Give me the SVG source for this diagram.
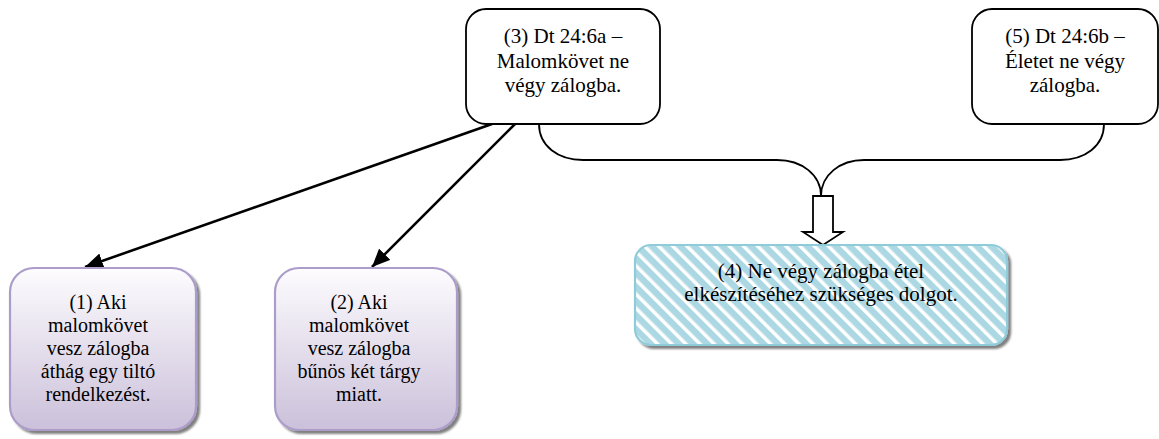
<svg xmlns="http://www.w3.org/2000/svg" width="1159" height="439" viewBox="0 0 1159 439">
  <style>
    .lbl { font-family: "Liberation Serif", "Times New Roman", serif; font-size: 20px; fill: #000; text-anchor: middle; }
    .big { font-size: 21px; }
    .plain { fill: #fff; stroke: #000; stroke-width: 1.8; }
    .purple { fill: url(#lilac); stroke: #ac9cc9; stroke-width: 2.2; filter: url(#shadow); }
    .striped { fill: url(#stripes); stroke: #8fcbd9; stroke-width: 2.2; filter: url(#shadow); }
    .conn { fill: none; stroke: #000; stroke-width: 2.6; }
    .brace { fill: none; stroke: #000; stroke-width: 1.8; }
  </style>
  <defs>
    <linearGradient id="lilac" x1="0" y1="0" x2="0" y2="1">
      <stop offset="0" stop-color="#fdfcfe"/>
      <stop offset="1" stop-color="#cbc0da"/>
    </linearGradient>
    <pattern id="stripes" patternUnits="userSpaceOnUse" width="10" height="10" patternTransform="rotate(-45)">
      <rect width="10" height="10" fill="#acd8e4"/>
      <rect width="3.5" height="10" fill="#ffffff"/>
    </pattern>
    <filter id="shadow" x="-10%" y="-10%" width="130%" height="130%">
      <feGaussianBlur in="SourceAlpha" stdDeviation="1.2"/>
      <feOffset dx="3" dy="3" result="off"/>
      <feComponentTransfer><feFuncA type="linear" slope="0.5"/></feComponentTransfer>
      <feMerge><feMergeNode/><feMergeNode in="SourceGraphic"/></feMerge>
    </filter>
    <marker id="head" markerUnits="userSpaceOnUse" markerWidth="20" markerHeight="16" refX="18" refY="8" orient="auto">
      <path d="M0,0 L18,8 L0,16 Z" fill="#000"/>
    </marker>
  </defs>

  <!-- connectors: two arrows from (3), a brace joining (3) and (5) into a block arrow to (4) -->
  <g id="connectors">
    <line class="conn" x1="492" y1="124" x2="85" y2="267" marker-end="url(#head)"/>
    <line class="conn" x1="515" y1="124" x2="372" y2="267" marker-end="url(#head)"/>
    <path class="brace" d="M539,124 C539,146 558,160 583,160 L777,160 C802,160 821,175 821,196"/>
    <path class="brace" d="M1104,124 C1104,146 1085,160 1060,160 L864,160 C840,160 821,175 821,196"/>
    <path d="M813,196 L833,196 L833,232 L843,232 L823,245 L803,232 L813,232 Z" fill="#fff" stroke="#000" stroke-width="1.8" stroke-linejoin="miter"/>
  </g>

  <g id="node3">
    <rect class="plain" x="466" y="9" width="194" height="115" rx="20"/>
    <text class="lbl big" x="563" y="43">(3) Dt 24:6a –</text>
    <text class="lbl big" x="563" y="68">Malomkövet ne</text>
    <text class="lbl big" x="563" y="92">végy zálogba.</text>
  </g>

  <g id="node5">
    <rect class="plain" x="972" y="9" width="186" height="115" rx="20"/>
    <text class="lbl big" x="1065" y="43">(5) Dt 24:6b –</text>
    <text class="lbl big" x="1065" y="68">Életet ne végy</text>
    <text class="lbl big" x="1065" y="92">zálogba.</text>
  </g>

  <g id="node1">
    <rect class="purple" x="10" y="268" width="186" height="162" rx="24"/>
    <text class="lbl" x="98" y="309">(1) Aki</text>
    <text class="lbl" x="98" y="332">malomkövet</text>
    <text class="lbl" x="98" y="355">vesz zálogba</text>
    <text class="lbl" x="98" y="378">áthág egy tiltó</text>
    <text class="lbl" x="98" y="401">rendelkezést.</text>
  </g>

  <g id="node2">
    <rect class="purple" x="275" y="268" width="182" height="162" rx="24"/>
    <text class="lbl" x="359" y="309">(2) Aki</text>
    <text class="lbl" x="359" y="332">malomkövet</text>
    <text class="lbl" x="359" y="355">vesz zálogba</text>
    <text class="lbl" x="359" y="378">bűnös két tárgy</text>
    <text class="lbl" x="359" y="401">miatt.</text>
  </g>

  <g id="node4">
    <rect class="striped" x="635" y="245" width="372" height="100" rx="16"/>
    <text class="lbl big" x="821" y="278">(4) Ne végy zálogba étel</text>
    <text class="lbl big" x="821" y="301">elkészítéséhez szükséges dolgot.</text>
  </g>
</svg>
